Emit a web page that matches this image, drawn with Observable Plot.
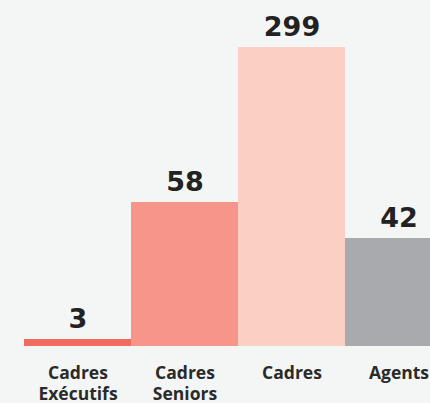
<!DOCTYPE html>
<html><head><meta charset="utf-8">
<script src="https://cdn.jsdelivr.net/npm/d3@7"></script>
<script src="https://cdn.jsdelivr.net/npm/@observablehq/plot@0.6"></script>
<style>
html,body{margin:0;padding:0;background:#f4f6f5;overflow:hidden;width:430px;height:403px}
</style></head><body><div id="chart"></div>
<script>
const categories = ["Cadres Exécutifs", "Cadres Seniors", "Cadres", "Agents"];
const tickLabels = ["Cadres\nExécutifs", "Cadres\nSeniors", "Cadres", "Agents"];
const values = [3, 58, 299, 42];
const colors = ["#f26b61", "#f69589", "#fbcfc4", "#a9aaae"];
// y breakpoints (the reference bars are not drawn to a linear scale)
const yBreaks = [0, 3, 42, 58, 299];

const data = categories.map((c, i) => ({category: c, value: values[i], color: colors[i]}));

const plot = Plot.plot({
  width: 430, height: 403,
  marginTop: 0, marginBottom: 57, marginLeft: 23, marginRight: 0,
  style: {background: "#f4f6f5", fontFamily: "'Open Sans', sans-serif", overflow: "visible"},
  x: {domain: categories, range: [23, 453], padding: 0, axis: null},
  y: {type: "linear", domain: yBreaks, range: [346, 339, 238, 202, 47], axis: null},
  marks: [
    Plot.barY(data, {x: "category", y: "value", fill: "color"}),
    Plot.text(data, {x: "category", y: "value", text: d => String(d.value),
      lineAnchor: "bottom", dy: -12, fontSize: 27, fontWeight: "bold",
      fontFamily: "DejaVu Sans", fill: "#222"}),
    Plot.axisX({tickSize: 0, tickPadding: 18, fontSize: 17.5, fontWeight: "bold",
      lineHeight: 1.2, fill: "#2a2a2a", label: null,
      tickFormat: d => tickLabels[categories.indexOf(d)]})
  ]
});
document.getElementById("chart").appendChild(plot);
</script></body></html>
